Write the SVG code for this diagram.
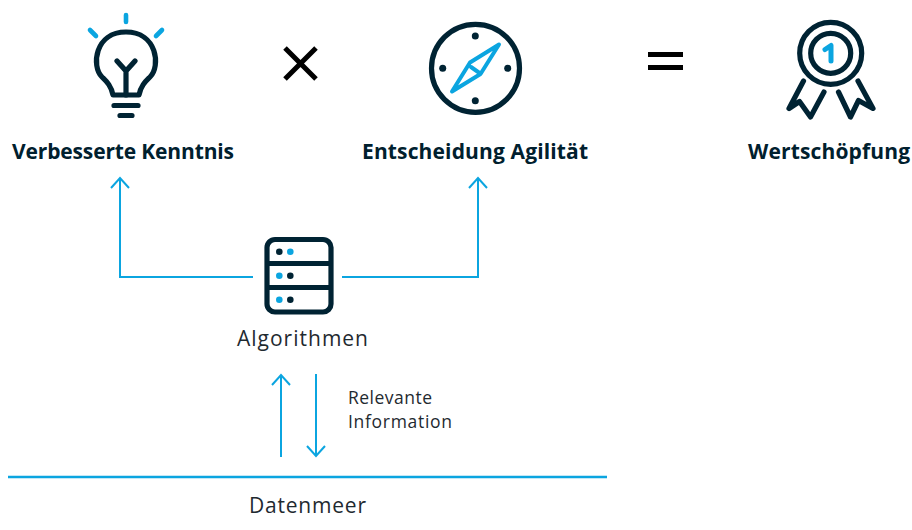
<svg xmlns="http://www.w3.org/2000/svg" width="912" height="530" viewBox="0 0 912 530">
<style>
text{font-family:"Open Sans","Noto Sans","Liberation Sans",sans-serif;fill:#1f2a30}
.b{font-weight:700;font-size:21px;fill:#00202e}
.m{font-size:21px}
.s{font-size:17.500px}
.d{fill:none;stroke:#002333;stroke-width:5.200;stroke-linecap:round;stroke-linejoin:round}
.c{fill:none;stroke:#0ba5e0;stroke-width:4.600;stroke-linecap:round;stroke-linejoin:round}
.k{fill:none;stroke:#000;stroke-width:5}
.fd{fill:#002333}.fc{fill:#0ba5e0}
.l{fill:none;stroke:#0ba5e0;stroke-width:2}
</style>
<rect width="912" height="530" fill="#fff"/>
<g id="connectors">
<path class="l" d="M253 277H120V179M111 188l9-10 9 10"/>
<path class="l" d="M342 277H478V179M469 188l9-10 9 10"/>
<path class="l" d="M281 457V375M272 385l9-10 9 10"/>
<path class="l" d="M316 374V456M307 446l9 10 9-10"/>
<path d="M8 477H607" fill="none" stroke="#0ba5e0" stroke-width="2.600"/>
</g>
<g id="bulb">
<path class="c" d="M126 15V22M90 30L96 36M162 30L156 36"/>
<path class="d" d="M113 95C111 85 106 81 102 77C91 66 95 32 126 32C157 32 161 66 150 77C146 81 141 85 139 95Z"/>
<path class="d" d="M117 61L126 71L135 61M126 71V95"/>
<path class="d" d="M114 105.500H138M120 115.500H132"/>
<text class="b" x="12" y="159" textLength="222" lengthAdjust="spacing">Verbesserte Kenntnis</text>
</g>
<g id="times"><path class="k" d="M285 48L316 79M316 48L285 79"/></g>
<g id="compass">
<circle class="d" cx="475.500" cy="68.300" r="44"/>
<circle class="fd" cx="475.300" cy="36" r="3.500"/><circle class="fd" cx="475.300" cy="100.700" r="3.500"/>
<circle class="fd" cx="442.700" cy="68.300" r="3.500"/><circle class="fd" cx="507.700" cy="68.300" r="3.500"/>
<path class="c" style="stroke-width:4" d="M499 44.500L470 62.500L452 91.500L480.500 74ZM471 67L479.500 73"/>
<text class="b" x="362" y="159" textLength="226" lengthAdjust="spacing">Entscheidung Agilität</text>
</g>
<g id="equals"><rect x="648" y="52" width="35" height="5"/><rect x="648" y="65" width="35" height="5"/></g>
<g id="medal">
<circle class="d" cx="830.700" cy="53.300" r="31"/>
<circle class="d" cx="830.700" cy="53.300" r="20"/>
<path class="c" style="stroke-width:5" d="M825 49.500L831 45.500V61"/>
<path class="d" d="M803.500 81L789 108.500L799.500 101.500L810.500 117L824 92"/>
<path class="d" d="M858 81L873 108.500L858.500 100.500L850.500 117L838.500 92"/>
<text class="b" x="748" y="159" textLength="162" lengthAdjust="spacing">Wertschöpfung</text>
</g>
<g id="server">
<rect class="d" x="267" y="239.500" width="64" height="72.500" rx="8"/>
<path class="d" style="stroke-linecap:butt" d="M267 263.500H331M267 287.500H331"/>
<circle class="fd" cx="279.300" cy="251.700" r="3.300"/><circle class="fc" cx="290.300" cy="251.700" r="3.300"/>
<circle class="fc" cx="279.300" cy="275.700" r="3.300"/><circle class="fd" cx="290.300" cy="275.700" r="3.300"/>
<circle class="fc" cx="279.300" cy="299.700" r="3.300"/><circle class="fd" cx="290.300" cy="299.700" r="3.300"/>
<text class="m" x="237" y="346" textLength="131" lengthAdjust="spacing">Algorithmen</text>
</g>
<g id="relevant">
<text class="s" x="348" y="404" textLength="84" lengthAdjust="spacing">Relevante</text>
<text class="s" x="348" y="428" textLength="104" lengthAdjust="spacing">Information</text>
</g>
<g id="datenmeer"><text class="m" x="249" y="513" textLength="117" lengthAdjust="spacing">Datenmeer</text></g>
</svg>
